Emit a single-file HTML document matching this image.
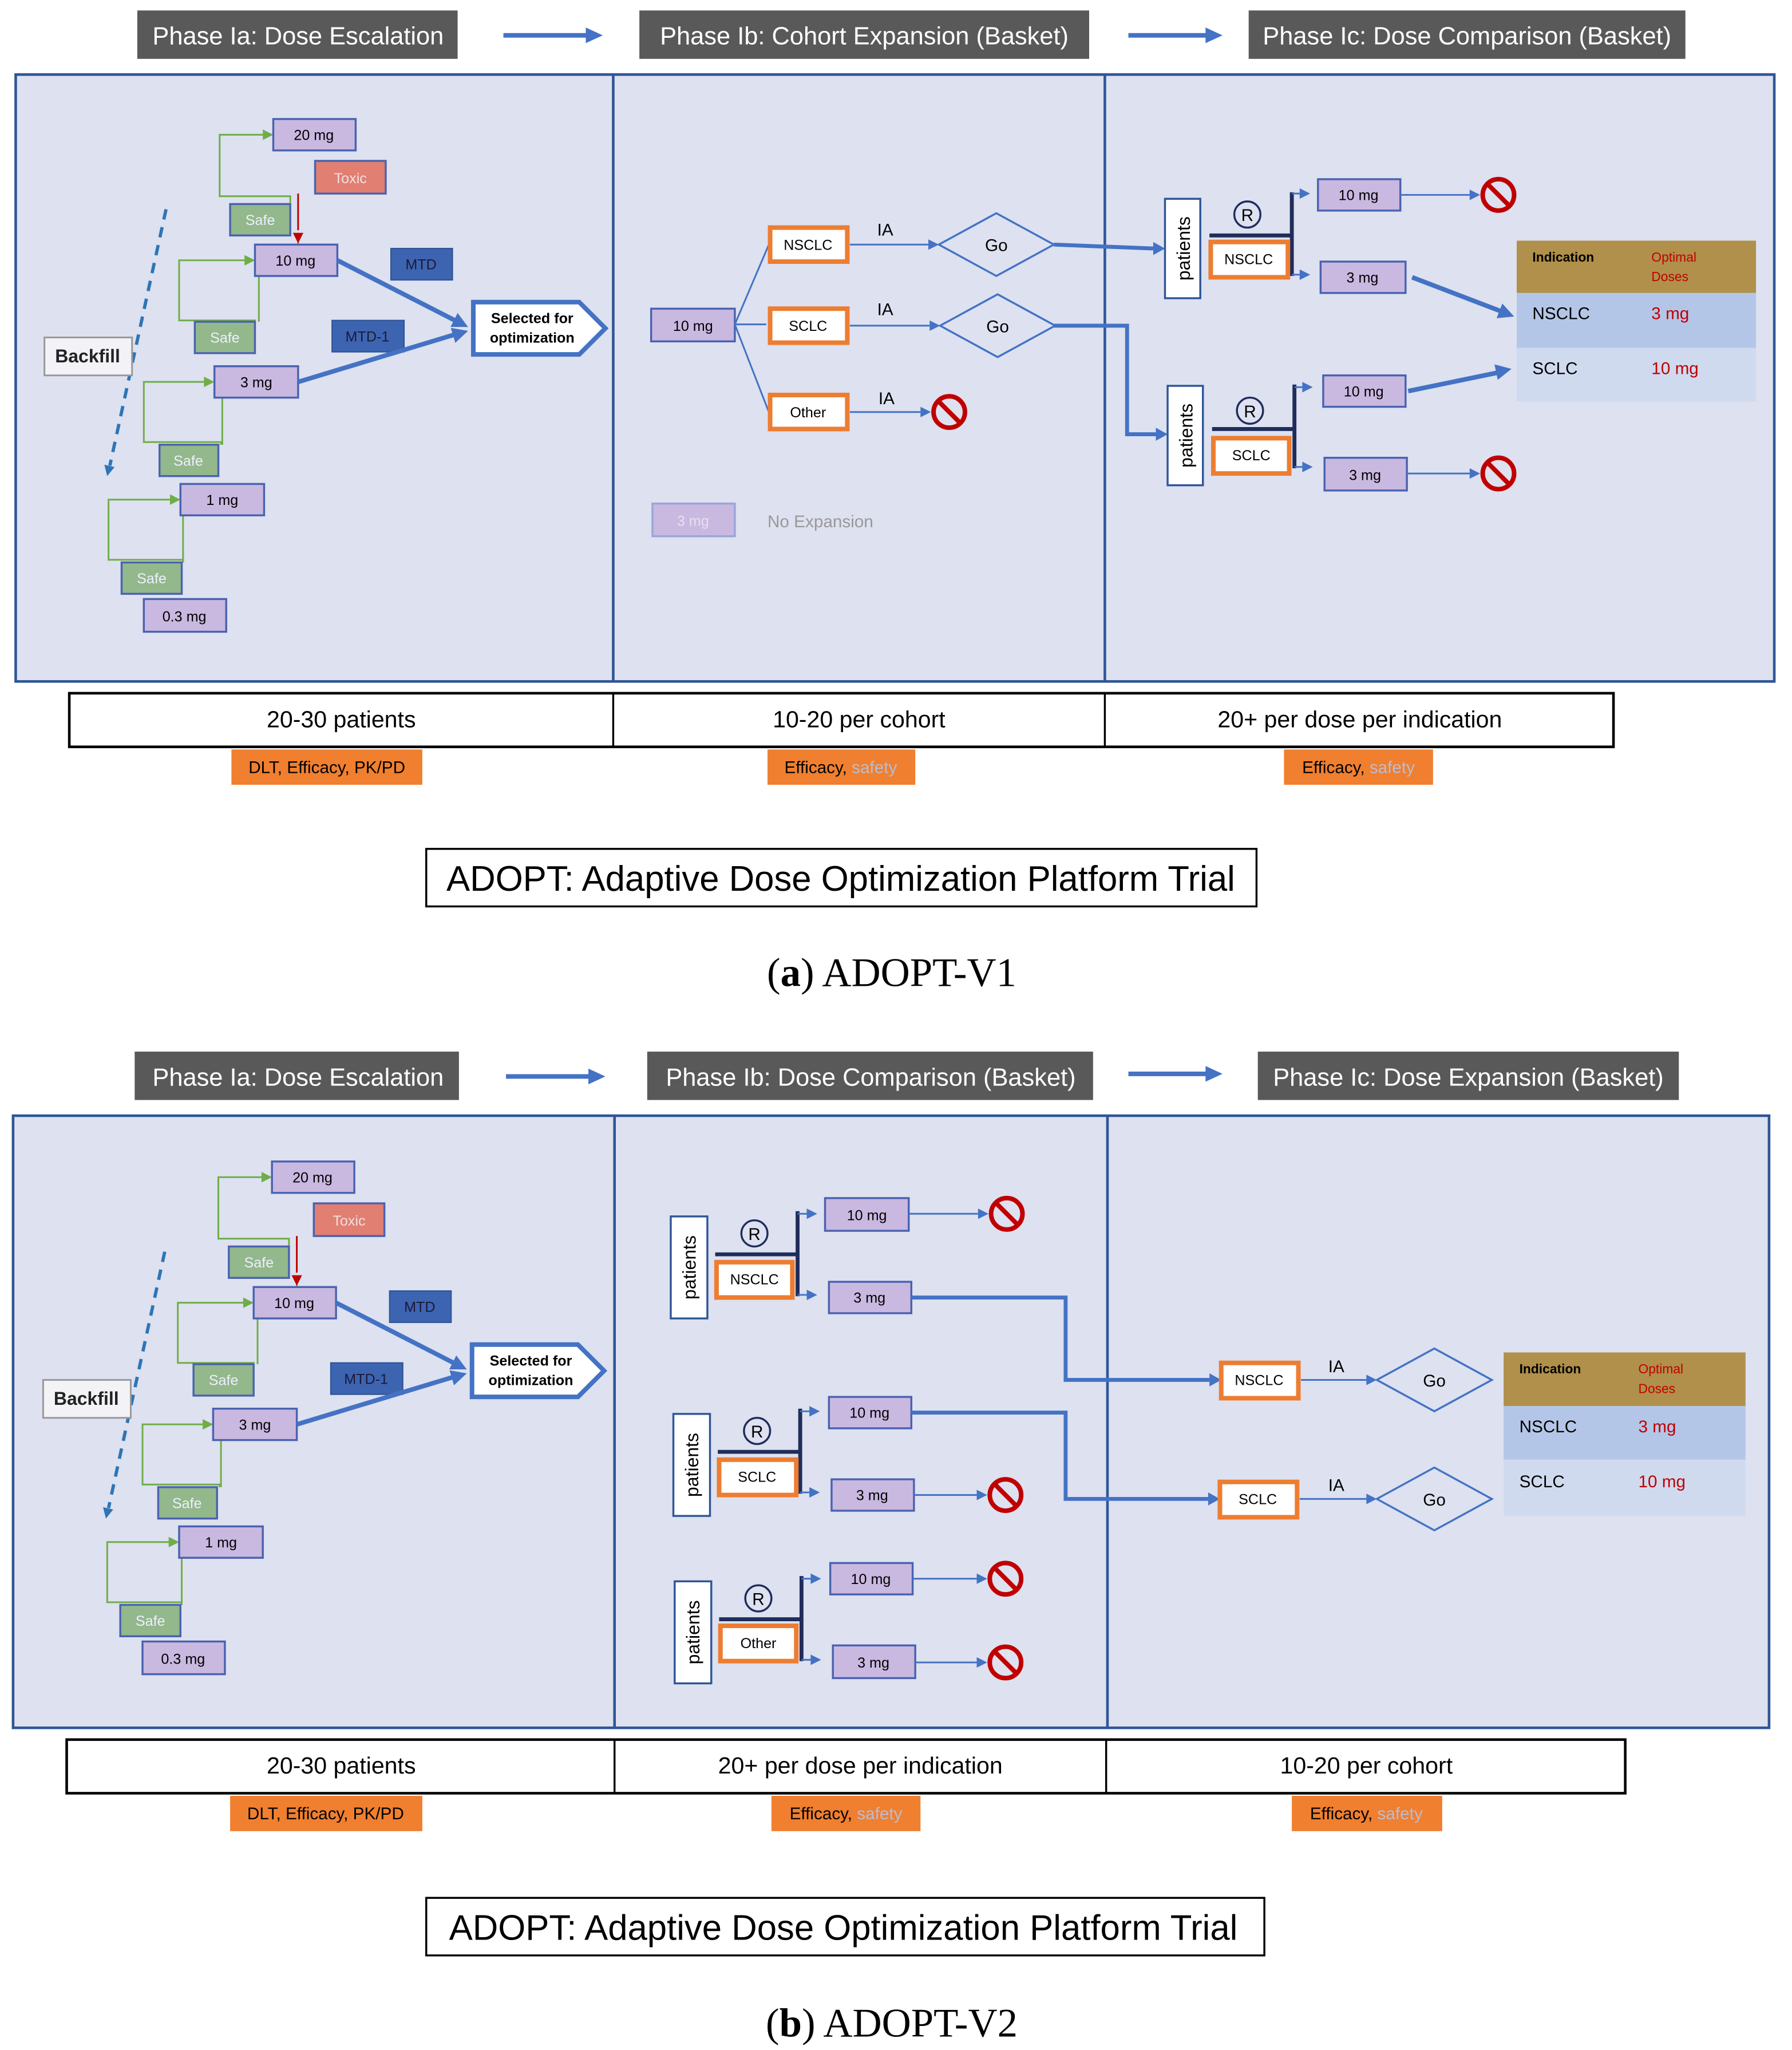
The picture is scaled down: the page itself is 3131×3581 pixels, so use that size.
<!DOCTYPE html>
<html><head><meta charset="utf-8"><style>
html,body{margin:0;padding:0;background:#fff;width:3131px;height:3581px;overflow:hidden;}
svg{display:block;position:absolute;left:0;top:0;}
text{font-family:"Liberation Sans",sans-serif;}
</style></head><body>
<svg xmlns="http://www.w3.org/2000/svg" width="3131" height="3581">
<g transform="scale(2.2845,2.2848)">

<!-- ===== PART A header ===== -->
<g font-size="19">
<rect x="105" y="8" width="245" height="37" fill="#595959"/><text x="228" y="34" fill="#fff" text-anchor="middle">Phase Ia: Dose Escalation</text>
<rect x="489" y="8" width="344" height="37" fill="#595959"/><text x="661" y="34" fill="#fff" text-anchor="middle">Phase Ib: Cohort Expansion (Basket)</text>
<rect x="955" y="8" width="334" height="37" fill="#595959"/><text x="1122" y="34" fill="#fff" text-anchor="middle">Phase Ic: Dose Comparison (Basket)</text>
</g>
<line x1="385" y1="27" x2="450" y2="27" stroke="#4472c4" stroke-width="3.5"/><polygon points="448,21 461,27 448,33" fill="#4472c4"/>
<line x1="863" y1="27" x2="924" y2="27" stroke="#4472c4" stroke-width="3.5"/><polygon points="922,21 935,27 922,33" fill="#4472c4"/>
<rect x="12" y="57" width="1345" height="464" fill="#dde1f0" stroke="#2f5597" stroke-width="2"/>
<line x1="469" y1="57" x2="469" y2="521" stroke="#2f5597" stroke-width="2"/>
<line x1="845" y1="57" x2="845" y2="521" stroke="#2f5597" stroke-width="2"/>

<!-- Phase Ia content A -->
<g>
  <path d="M222,156 L222,150 L168,150 L168,103 L203,103" fill="none" stroke="#70ad47" stroke-width="1.3"/><polygon points="201,99 209,103 201,107" fill="#70ad47"/>
  <path d="M195,246 L195,245 L137,245 L137,199 L189,199" fill="none" stroke="#70ad47" stroke-width="1.3"/><polygon points="187,195 195,199 187,203" fill="#70ad47"/>
  <path d="M169,340 L169,338 L110,338 L110,292 L158,292" fill="none" stroke="#70ad47" stroke-width="1.3"/><polygon points="156,288 164,292 156,296" fill="#70ad47"/>
  <path d="M140,430 L140,428 L83,428 L83,382 L132,382" fill="none" stroke="#70ad47" stroke-width="1.3"/><polygon points="130,378 138,382 130,386" fill="#70ad47"/>
  <path d="M198,211 L198,246 M228,187 L228,180 M170,304 L170,340 M140,394 L140,430" stroke="#70ad47" stroke-width="1.3"/>
  <path d="M228,148 L228,176" stroke="#c00000" stroke-width="1.3"/><polygon points="224,178 228,186 232,178" fill="#c00000"/>
  <rect x="209" y="91" width="63" height="24" fill="#c9b8e0" stroke="#4a62b0" stroke-width="1.5"/><text x="240" y="107" font-size="11" text-anchor="middle">20 mg</text>
  <rect x="241" y="123" width="54" height="25" fill="#e07f72" stroke="#4a62b0" stroke-width="1.5"/><text x="268" y="140" font-size="11" text-anchor="middle" fill="#f4dede">Toxic</text>
  <rect x="176" y="156" width="46" height="24" fill="#93b88b" stroke="#4a62b0" stroke-width="1.5"/><text x="199" y="172" font-size="11" text-anchor="middle" fill="#eef">Safe</text>
  <rect x="195" y="187" width="63" height="24" fill="#c9b8e0" stroke="#4a62b0" stroke-width="1.5"/><text x="226" y="203" font-size="11" text-anchor="middle">10 mg</text>
  <rect x="149" y="246" width="46" height="24" fill="#93b88b" stroke="#4a62b0" stroke-width="1.5"/><text x="172" y="262" font-size="11" text-anchor="middle" fill="#eef">Safe</text>
  <rect x="164" y="280" width="64" height="24" fill="#c9b8e0" stroke="#4a62b0" stroke-width="1.5"/><text x="196" y="296" font-size="11" text-anchor="middle">3 mg</text>
  <rect x="122" y="340" width="45" height="24" fill="#93b88b" stroke="#4a62b0" stroke-width="1.5"/><text x="144" y="356" font-size="11" text-anchor="middle" fill="#eef">Safe</text>
  <rect x="138" y="370" width="64" height="24" fill="#c9b8e0" stroke="#4a62b0" stroke-width="1.5"/><text x="170" y="386" font-size="11" text-anchor="middle">1 mg</text>
  <rect x="93" y="430" width="46" height="24" fill="#93b88b" stroke="#4a62b0" stroke-width="1.5"/><text x="116" y="446" font-size="11" text-anchor="middle" fill="#eef">Safe</text>
  <rect x="110" y="458" width="63" height="25" fill="#c9b8e0" stroke="#4a62b0" stroke-width="1.5"/><text x="141" y="475" font-size="11" text-anchor="middle">0.3 mg</text>
  <rect x="299" y="190" width="47" height="24" fill="#3d64b0" stroke="#2f5597"/><text x="322" y="206" font-size="11" text-anchor="middle" fill="#1a1a3a">MTD</text>
  <rect x="254" y="245" width="55" height="24" fill="#3d64b0" stroke="#2f5597"/><text x="281" y="261" font-size="11" text-anchor="middle" fill="#1a1a3a">MTD-1</text>
  <line x1="258" y1="199" x2="348" y2="245" stroke="#4472c4" stroke-width="3.5"/><polygon points="358,250 344.6,249.9 350,239.3" fill="#4472c4"/>
  <line x1="228" y1="292" x2="347" y2="256" stroke="#4472c4" stroke-width="3.5"/><polygon points="358,253 348.2,262.1 344.8,250.7" fill="#4472c4"/>
  <polygon points="362,231 443,231 463,251 443,271 362,271" fill="#fff" stroke="#4472c4" stroke-width="3.5"/>
  <text x="407" y="247" font-size="11" font-weight="bold" text-anchor="middle">Selected for</text>
  <text x="407" y="262" font-size="11" font-weight="bold" text-anchor="middle">optimization</text>
  <line x1="127" y1="160" x2="84" y2="356" stroke="#2e75b6" stroke-width="2.5" stroke-dasharray="8,6"/><polygon points="82,364 87.6,357.1 79.8,355.3" fill="#2e75b6"/>
  <rect x="34" y="258" width="67" height="29" fill="#f2f2f7" stroke="#999" stroke-width="1.3"/><text x="67" y="277" font-size="14" font-weight="bold" text-anchor="middle" fill="#222">Backfill</text>
</g>

<!-- Ib (a) -->
<rect x="498" y="236" width="64" height="25" fill="#c9b8e0" stroke="#4a62b0" stroke-width="1.5"/><text x="530" y="253" font-size="11" text-anchor="middle">10 mg</text>
<path d="M562,248 L588,187 M562,248 L586,248 M562,248 L588,315" stroke="#4472c4" stroke-width="1.3" fill="none"/>
<g font-size="11" text-anchor="middle">
<rect x="589" y="174" width="59" height="26" fill="#fff" stroke="#ed7d31" stroke-width="3.5"/><text x="618" y="191">NSCLC</text>
<rect x="589" y="236" width="59" height="26" fill="#fff" stroke="#ed7d31" stroke-width="3.5"/><text x="618" y="253">SCLC</text>
<rect x="589" y="302" width="59" height="26" fill="#fff" stroke="#ed7d31" stroke-width="3.5"/><text x="618" y="319">Other</text>
</g>
<g font-size="13" text-anchor="middle"><text x="677" y="180">IA</text><text x="677" y="241">IA</text><text x="678" y="309">IA</text></g>
<line x1="650" y1="187" x2="710" y2="187" stroke="#4472c4" stroke-width="1.3"/><polygon points="710,183 718,187 710,191" fill="#4472c4"/>
<line x1="650" y1="249" x2="711" y2="249" stroke="#4472c4" stroke-width="1.3"/><polygon points="711,245 719,249 711,253" fill="#4472c4"/>
<line x1="650" y1="315" x2="704" y2="315" stroke="#4472c4" stroke-width="1.3"/><polygon points="704,311 712,315 704,319" fill="#4472c4"/>
<polygon points="718,187 762,163 806,187 762,211" fill="#dde1f0" stroke="#4472c4" stroke-width="1.5"/><text x="762" y="192" font-size="13" text-anchor="middle">Go</text>
<polygon points="719,249 763,225 807,249 763,273" fill="#dde1f0" stroke="#4472c4" stroke-width="1.5"/><text x="763" y="254" font-size="13" text-anchor="middle">Go</text>
<circle cx="726" cy="315" r="12" fill="none" stroke="#c00000" stroke-width="3.5"/><line x1="717.5" y1="306.5" x2="734.5" y2="323.5" stroke="#c00000" stroke-width="3.5"/>
<rect x="499" y="385" width="63" height="25" fill="#c9b8e0" stroke="#9aa4d8" stroke-width="1.5"/><text x="530" y="402" font-size="11" text-anchor="middle" fill="#e6e0f0">3 mg</text>
<text x="587" y="403" font-size="13" fill="#999">No Expansion</text>

<!-- Ic (a) -->
<path d="M806,187 L882,190" stroke="#4472c4" stroke-width="3" fill="none"/><polygon points="882,185 891,190 882,195" fill="#4472c4"/>
<path d="M806,249 L862,249 L862,332 L884,332" stroke="#4472c4" stroke-width="3" fill="none"/><polygon points="884,327 893,332 884,337" fill="#4472c4"/>
<rect x="891" y="152" width="27" height="76" fill="#fff" stroke="#2f5597" stroke-width="1.5"/>
<text transform="translate(910,190) rotate(-90)" font-size="14" text-anchor="middle">patients</text>
<circle cx="954" cy="164" r="10" fill="none" stroke="#1f2d5a" stroke-width="1.5"/><text x="954" y="169" font-size="13" text-anchor="middle">R</text>
<line x1="925" y1="180" x2="988" y2="180" stroke="#1f2d5a" stroke-width="3"/>
<line x1="988" y1="147" x2="988" y2="211" stroke="#1f2d5a" stroke-width="3"/>
<line x1="988" y1="148" x2="994" y2="148" stroke="#4472c4" stroke-width="1.3"/><polygon points="994,144 1002,148 994,152" fill="#4472c4"/>
<line x1="988" y1="210" x2="994" y2="210" stroke="#4472c4" stroke-width="1.3"/><polygon points="994,206 1002,210 994,214" fill="#4472c4"/>
<rect x="926" y="185" width="59" height="27" fill="#fff" stroke="#ed7d31" stroke-width="3.5"/><text x="955" y="202" font-size="11" text-anchor="middle">NSCLC</text>
<rect x="1008" y="137" width="63" height="24" fill="#c9b8e0" stroke="#4a62b0" stroke-width="1.5"/><text x="1039" y="153" font-size="11" text-anchor="middle">10 mg</text>
<rect x="1010" y="200" width="65" height="24" fill="#c9b8e0" stroke="#4a62b0" stroke-width="1.5"/><text x="1042" y="216" font-size="11" text-anchor="middle">3 mg</text>
<line x1="1071" y1="149" x2="1124" y2="149" stroke="#4472c4" stroke-width="1.3"/><polygon points="1124,145 1132,149 1124,153" fill="#4472c4"/>
<circle cx="1146" cy="149" r="12" fill="none" stroke="#c00000" stroke-width="3.5"/><line x1="1137.5" y1="140.5" x2="1154.5" y2="157.5" stroke="#c00000" stroke-width="3.5"/>
<line x1="1080" y1="212" x2="1148" y2="238" stroke="#4472c4" stroke-width="3.5"/><polygon points="1158,242 1144.6,243.3 1149,232.1" fill="#4472c4"/>

<rect x="893" y="295" width="27" height="76" fill="#fff" stroke="#2f5597" stroke-width="1.5"/>
<text transform="translate(912,333) rotate(-90)" font-size="14" text-anchor="middle">patients</text>
<circle cx="956" cy="314" r="10" fill="none" stroke="#1f2d5a" stroke-width="1.5"/><text x="956" y="319" font-size="13" text-anchor="middle">R</text>
<line x1="927" y1="328" x2="990" y2="328" stroke="#1f2d5a" stroke-width="3"/>
<line x1="990" y1="294" x2="990" y2="358" stroke="#1f2d5a" stroke-width="3"/>
<line x1="990" y1="296" x2="996" y2="296" stroke="#4472c4" stroke-width="1.3"/><polygon points="996,292 1004,296 996,300" fill="#4472c4"/>
<line x1="990" y1="357" x2="996" y2="357" stroke="#4472c4" stroke-width="1.3"/><polygon points="996,353 1004,357 996,361" fill="#4472c4"/>
<rect x="928" y="335" width="58" height="27" fill="#fff" stroke="#ed7d31" stroke-width="3.5"/><text x="957" y="352" font-size="11" text-anchor="middle">SCLC</text>
<rect x="1012" y="287" width="63" height="24" fill="#c9b8e0" stroke="#4a62b0" stroke-width="1.5"/><text x="1043" y="303" font-size="11" text-anchor="middle">10 mg</text>
<rect x="1013" y="350" width="63" height="25" fill="#c9b8e0" stroke="#4a62b0" stroke-width="1.5"/><text x="1044" y="367" font-size="11" text-anchor="middle">3 mg</text>
<line x1="1076" y1="362" x2="1124" y2="362" stroke="#4472c4" stroke-width="1.3"/><polygon points="1124,358 1132,362 1124,366" fill="#4472c4"/>
<circle cx="1146" cy="362" r="12" fill="none" stroke="#c00000" stroke-width="3.5"/><line x1="1137.5" y1="353.5" x2="1154.5" y2="370.5" stroke="#c00000" stroke-width="3.5"/>
<line x1="1077" y1="299" x2="1145" y2="285" stroke="#4472c4" stroke-width="3.5"/><polygon points="1156,282 1145.5,290.4 1143,278.6" fill="#4472c4"/>

<rect x="1160" y="184" width="183" height="40" fill="#b0904a"/>
<rect x="1160" y="224" width="183" height="42" fill="#b4c6e7"/>
<rect x="1160" y="266" width="183" height="41" fill="#d0daef"/>
<text x="1172" y="200" font-size="10" font-weight="bold">Indication</text>
<text x="1263" y="200" font-size="10" fill="#c00000">Optimal</text><text x="1263" y="215" font-size="10" fill="#c00000">Doses</text>
<text x="1172" y="244" font-size="13">NSCLC</text><text x="1263" y="244" font-size="13" fill="#c00000">3 mg</text>
<text x="1172" y="286" font-size="13">SCLC</text><text x="1263" y="286" font-size="13" fill="#c00000">10 mg</text>

<!-- table a -->
<rect x="53" y="530" width="1181" height="41" fill="#fff" stroke="#000" stroke-width="2"/>
<line x1="469" y1="530" x2="469" y2="571" stroke="#000" stroke-width="1.5"/>
<line x1="845" y1="530" x2="845" y2="571" stroke="#000" stroke-width="1.5"/>
<g font-size="18" text-anchor="middle"><text x="261" y="556">20-30 patients</text><text x="657" y="556">10-20 per cohort</text><text x="1040" y="556">20+ per dose per indication</text></g>
<g font-size="13" text-anchor="middle">
<rect x="177" y="573" width="146" height="27" fill="#f07f2f"/><text x="250" y="591">DLT, Efficacy, PK/PD</text>
<rect x="587" y="573" width="113" height="27" fill="#f07f2f"/><text x="643" y="591">Efficacy, <tspan fill="#bcbcd0">safety</tspan></text>
<rect x="982" y="573" width="114" height="27" fill="#f07f2f"/><text x="1039" y="591">Efficacy, <tspan fill="#bcbcd0">safety</tspan></text>
</g>
<rect x="326" y="649" width="635" height="44" fill="#fff" stroke="#000" stroke-width="1.5"/>
<text x="643" y="681" font-size="27" text-anchor="middle">ADOPT: Adaptive Dose Optimization Platform Trial</text>
<text x="682" y="754" font-size="31" text-anchor="middle" style="font-family:'Liberation Serif',serif">(<tspan font-weight="bold">a</tspan>) ADOPT-V1</text>

<!-- ===== PART B ===== -->
<g font-size="19">
<rect x="103" y="804" width="248" height="37" fill="#595959"/><text x="228" y="830" fill="#fff" text-anchor="middle">Phase Ia: Dose Escalation</text>
<rect x="495" y="804" width="341" height="37" fill="#595959"/><text x="666" y="830" fill="#fff" text-anchor="middle">Phase Ib: Dose Comparison (Basket)</text>
<rect x="962" y="804" width="322" height="37" fill="#595959"/><text x="1123" y="830" fill="#fff" text-anchor="middle">Phase Ic: Dose Expansion (Basket)</text>
</g>
<line x1="387" y1="823" x2="452" y2="823" stroke="#4472c4" stroke-width="3.5"/><polygon points="450,817 463,823 450,829" fill="#4472c4"/>
<line x1="863" y1="821" x2="924" y2="821" stroke="#4472c4" stroke-width="3.5"/><polygon points="922,815 935,821 922,827" fill="#4472c4"/>
<rect x="10" y="853" width="1343" height="468" fill="#dde1f0" stroke="#2f5597" stroke-width="2"/>
<line x1="470" y1="853" x2="470" y2="1321" stroke="#2f5597" stroke-width="2"/>
<line x1="847" y1="853" x2="847" y2="1321" stroke="#2f5597" stroke-width="2"/>

<!-- Phase Ia content B -->
<g transform="translate(-1,797)">
  <path d="M222,156 L222,150 L168,150 L168,103 L203,103" fill="none" stroke="#70ad47" stroke-width="1.3"/><polygon points="201,99 209,103 201,107" fill="#70ad47"/>
  <path d="M195,246 L195,245 L137,245 L137,199 L189,199" fill="none" stroke="#70ad47" stroke-width="1.3"/><polygon points="187,195 195,199 187,203" fill="#70ad47"/>
  <path d="M169,340 L169,338 L110,338 L110,292 L158,292" fill="none" stroke="#70ad47" stroke-width="1.3"/><polygon points="156,288 164,292 156,296" fill="#70ad47"/>
  <path d="M140,430 L140,428 L83,428 L83,382 L132,382" fill="none" stroke="#70ad47" stroke-width="1.3"/><polygon points="130,378 138,382 130,386" fill="#70ad47"/>
  <path d="M198,211 L198,246 M228,187 L228,180 M170,304 L170,340 M140,394 L140,430" stroke="#70ad47" stroke-width="1.3"/>
  <path d="M228,148 L228,176" stroke="#c00000" stroke-width="1.3"/><polygon points="224,178 228,186 232,178" fill="#c00000"/>
  <rect x="209" y="91" width="63" height="24" fill="#c9b8e0" stroke="#4a62b0" stroke-width="1.5"/><text x="240" y="107" font-size="11" text-anchor="middle">20 mg</text>
  <rect x="241" y="123" width="54" height="25" fill="#e07f72" stroke="#4a62b0" stroke-width="1.5"/><text x="268" y="140" font-size="11" text-anchor="middle" fill="#f4dede">Toxic</text>
  <rect x="176" y="156" width="46" height="24" fill="#93b88b" stroke="#4a62b0" stroke-width="1.5"/><text x="199" y="172" font-size="11" text-anchor="middle" fill="#eef">Safe</text>
  <rect x="195" y="187" width="63" height="24" fill="#c9b8e0" stroke="#4a62b0" stroke-width="1.5"/><text x="226" y="203" font-size="11" text-anchor="middle">10 mg</text>
  <rect x="149" y="246" width="46" height="24" fill="#93b88b" stroke="#4a62b0" stroke-width="1.5"/><text x="172" y="262" font-size="11" text-anchor="middle" fill="#eef">Safe</text>
  <rect x="164" y="280" width="64" height="24" fill="#c9b8e0" stroke="#4a62b0" stroke-width="1.5"/><text x="196" y="296" font-size="11" text-anchor="middle">3 mg</text>
  <rect x="122" y="340" width="45" height="24" fill="#93b88b" stroke="#4a62b0" stroke-width="1.5"/><text x="144" y="356" font-size="11" text-anchor="middle" fill="#eef">Safe</text>
  <rect x="138" y="370" width="64" height="24" fill="#c9b8e0" stroke="#4a62b0" stroke-width="1.5"/><text x="170" y="386" font-size="11" text-anchor="middle">1 mg</text>
  <rect x="93" y="430" width="46" height="24" fill="#93b88b" stroke="#4a62b0" stroke-width="1.5"/><text x="116" y="446" font-size="11" text-anchor="middle" fill="#eef">Safe</text>
  <rect x="110" y="458" width="63" height="25" fill="#c9b8e0" stroke="#4a62b0" stroke-width="1.5"/><text x="141" y="475" font-size="11" text-anchor="middle">0.3 mg</text>
  <rect x="299" y="190" width="47" height="24" fill="#3d64b0" stroke="#2f5597"/><text x="322" y="206" font-size="11" text-anchor="middle" fill="#1a1a3a">MTD</text>
  <rect x="254" y="245" width="55" height="24" fill="#3d64b0" stroke="#2f5597"/><text x="281" y="261" font-size="11" text-anchor="middle" fill="#1a1a3a">MTD-1</text>
  <line x1="258" y1="199" x2="348" y2="245" stroke="#4472c4" stroke-width="3.5"/><polygon points="358,250 344.6,249.9 350,239.3" fill="#4472c4"/>
  <line x1="228" y1="292" x2="347" y2="256" stroke="#4472c4" stroke-width="3.5"/><polygon points="358,253 348.2,262.1 344.8,250.7" fill="#4472c4"/>
  <polygon points="362,231 443,231 463,251 443,271 362,271" fill="#fff" stroke="#4472c4" stroke-width="3.5"/>
  <text x="407" y="247" font-size="11" font-weight="bold" text-anchor="middle">Selected for</text>
  <text x="407" y="262" font-size="11" font-weight="bold" text-anchor="middle">optimization</text>
  <line x1="127" y1="160" x2="84" y2="356" stroke="#2e75b6" stroke-width="2.5" stroke-dasharray="8,6"/><polygon points="82,364 87.6,357.1 79.8,355.3" fill="#2e75b6"/>
  <rect x="34" y="258" width="67" height="29" fill="#f2f2f7" stroke="#999" stroke-width="1.3"/><text x="67" y="277" font-size="14" font-weight="bold" text-anchor="middle" fill="#222">Backfill</text>
</g>

<!-- Ib (b) groups -->
<g>
<rect x="513" y="930" width="28" height="78" fill="#fff" stroke="#2f5597" stroke-width="1.5"/>
<text transform="translate(532,969) rotate(-90)" font-size="14" text-anchor="middle">patients</text>
<circle cx="577" cy="943" r="10" fill="none" stroke="#1f2d5a" stroke-width="1.5"/><text x="577" y="948" font-size="13" text-anchor="middle">R</text>
<line x1="547" y1="959" x2="610" y2="959" stroke="#1f2d5a" stroke-width="3"/>
<line x1="610" y1="926" x2="610" y2="991" stroke="#1f2d5a" stroke-width="3"/>
<line x1="610" y1="928" x2="617" y2="928" stroke="#4472c4" stroke-width="1.3"/><polygon points="617,924 625,928 617,932" fill="#4472c4"/>
<line x1="610" y1="990" x2="617" y2="990" stroke="#4472c4" stroke-width="1.3"/><polygon points="617,986 625,990 617,994" fill="#4472c4"/>
</g>
<g transform="translate(2,151)">
<rect x="513" y="930" width="28" height="78" fill="#fff" stroke="#2f5597" stroke-width="1.5"/>
<text transform="translate(532,969) rotate(-90)" font-size="14" text-anchor="middle">patients</text>
<circle cx="577" cy="943" r="10" fill="none" stroke="#1f2d5a" stroke-width="1.5"/><text x="577" y="948" font-size="13" text-anchor="middle">R</text>
<line x1="547" y1="959" x2="610" y2="959" stroke="#1f2d5a" stroke-width="3"/>
<line x1="610" y1="926" x2="610" y2="991" stroke="#1f2d5a" stroke-width="3"/>
<line x1="610" y1="928" x2="617" y2="928" stroke="#4472c4" stroke-width="1.3"/><polygon points="617,924 625,928 617,932" fill="#4472c4"/>
<line x1="610" y1="990" x2="617" y2="990" stroke="#4472c4" stroke-width="1.3"/><polygon points="617,986 625,990 617,994" fill="#4472c4"/>
</g>
<g transform="translate(3,279)">
<rect x="513" y="930" width="28" height="78" fill="#fff" stroke="#2f5597" stroke-width="1.5"/>
<text transform="translate(532,969) rotate(-90)" font-size="14" text-anchor="middle">patients</text>
<circle cx="577" cy="943" r="10" fill="none" stroke="#1f2d5a" stroke-width="1.5"/><text x="577" y="948" font-size="13" text-anchor="middle">R</text>
<line x1="547" y1="959" x2="610" y2="959" stroke="#1f2d5a" stroke-width="3"/>
<line x1="610" y1="926" x2="610" y2="991" stroke="#1f2d5a" stroke-width="3"/>
<line x1="610" y1="928" x2="617" y2="928" stroke="#4472c4" stroke-width="1.3"/><polygon points="617,924 625,928 617,932" fill="#4472c4"/>
<line x1="610" y1="990" x2="617" y2="990" stroke="#4472c4" stroke-width="1.3"/><polygon points="617,986 625,990 617,994" fill="#4472c4"/>
</g>
<g font-size="11" text-anchor="middle">
<rect x="548" y="965" width="58" height="27" fill="#fff" stroke="#ed7d31" stroke-width="3.5"/><text x="577" y="982">NSCLC</text>
<rect x="550" y="1116" width="59" height="27" fill="#fff" stroke="#ed7d31" stroke-width="3.5"/><text x="579" y="1133">SCLC</text>
<rect x="551" y="1243" width="58" height="27" fill="#fff" stroke="#ed7d31" stroke-width="3.5"/><text x="580" y="1260">Other</text>
<rect x="631" y="916" width="64" height="25" fill="#c9b8e0" stroke="#4a62b0" stroke-width="1.5"/><text x="663" y="933">10 mg</text>
<rect x="634" y="980" width="63" height="24" fill="#c9b8e0" stroke="#4a62b0" stroke-width="1.5"/><text x="665" y="996">3 mg</text>
<rect x="634" y="1068" width="63" height="24" fill="#c9b8e0" stroke="#4a62b0" stroke-width="1.5"/><text x="665" y="1084">10 mg</text>
<rect x="636" y="1131" width="63" height="24" fill="#c9b8e0" stroke="#4a62b0" stroke-width="1.5"/><text x="667" y="1147">3 mg</text>
<rect x="635" y="1195" width="63" height="24" fill="#c9b8e0" stroke="#4a62b0" stroke-width="1.5"/><text x="666" y="1211">10 mg</text>
<rect x="637" y="1258" width="63" height="25" fill="#c9b8e0" stroke="#4a62b0" stroke-width="1.5"/><text x="668" y="1275">3 mg</text>
</g>
<line x1="695" y1="928" x2="748" y2="928" stroke="#4472c4" stroke-width="1.3"/><polygon points="748,924 756,928 748,932" fill="#4472c4"/>
<circle cx="770" cy="928" r="12" fill="none" stroke="#c00000" stroke-width="3.5"/><line x1="761.5" y1="919.5" x2="778.5" y2="936.5" stroke="#c00000" stroke-width="3.5"/>
<line x1="699" y1="1143" x2="747" y2="1143" stroke="#4472c4" stroke-width="1.3"/><polygon points="747,1139 755,1143 747,1147" fill="#4472c4"/>
<circle cx="769" cy="1143" r="12" fill="none" stroke="#c00000" stroke-width="3.5"/><line x1="760.5" y1="1134.5" x2="777.5" y2="1151.5" stroke="#c00000" stroke-width="3.5"/>
<line x1="698" y1="1207" x2="747" y2="1207" stroke="#4472c4" stroke-width="1.3"/><polygon points="747,1203 755,1207 747,1211" fill="#4472c4"/>
<circle cx="769" cy="1207" r="12" fill="none" stroke="#c00000" stroke-width="3.5"/><line x1="760.5" y1="1198.5" x2="777.5" y2="1215.5" stroke="#c00000" stroke-width="3.5"/>
<line x1="700" y1="1271" x2="747" y2="1271" stroke="#4472c4" stroke-width="1.3"/><polygon points="747,1267 755,1271 747,1275" fill="#4472c4"/>
<circle cx="769" cy="1271" r="12" fill="none" stroke="#c00000" stroke-width="3.5"/><line x1="760.5" y1="1262.5" x2="777.5" y2="1279.5" stroke="#c00000" stroke-width="3.5"/>
<path d="M697,992 L815,992 L815,1055 L925,1055" stroke="#4472c4" stroke-width="3" fill="none"/><polygon points="925,1050 934,1055 925,1060" fill="#4472c4"/>
<path d="M697,1080 L815,1080 L815,1146 L924,1146" stroke="#4472c4" stroke-width="3" fill="none"/><polygon points="924,1141 933,1146 924,1151" fill="#4472c4"/>

<!-- Ic (b) -->
<rect x="934" y="1042" width="59" height="27" fill="#fff" stroke="#ed7d31" stroke-width="3.5"/><text x="963" y="1059" font-size="11" text-anchor="middle">NSCLC</text>
<rect x="933" y="1133" width="59" height="27" fill="#fff" stroke="#ed7d31" stroke-width="3.5"/><text x="962" y="1150" font-size="11" text-anchor="middle">SCLC</text>
<text x="1022" y="1049" font-size="13" text-anchor="middle">IA</text><text x="1022" y="1140" font-size="13" text-anchor="middle">IA</text>
<line x1="995" y1="1055" x2="1045" y2="1055" stroke="#4472c4" stroke-width="1.3"/><polygon points="1045,1051 1053,1055 1045,1059" fill="#4472c4"/>
<line x1="994" y1="1146" x2="1045" y2="1146" stroke="#4472c4" stroke-width="1.3"/><polygon points="1045,1142 1053,1146 1045,1150" fill="#4472c4"/>
<polygon points="1053,1055 1097,1031 1141,1055 1097,1079" fill="#dde1f0" stroke="#4472c4" stroke-width="1.5"/><text x="1097" y="1060" font-size="13" text-anchor="middle">Go</text>
<polygon points="1053,1146 1097,1122 1141,1146 1097,1170" fill="#dde1f0" stroke="#4472c4" stroke-width="1.5"/><text x="1097" y="1151" font-size="13" text-anchor="middle">Go</text>
<rect x="1150" y="1034" width="185" height="41" fill="#b0904a"/>
<rect x="1150" y="1075" width="185" height="41" fill="#b4c6e7"/>
<rect x="1150" y="1116" width="185" height="43" fill="#d0daef"/>
<text x="1162" y="1050" font-size="10" font-weight="bold">Indication</text>
<text x="1253" y="1050" font-size="10" fill="#c00000">Optimal</text><text x="1253" y="1065" font-size="10" fill="#c00000">Doses</text>
<text x="1162" y="1095" font-size="13">NSCLC</text><text x="1253" y="1095" font-size="13" fill="#c00000">3 mg</text>
<text x="1162" y="1137" font-size="13">SCLC</text><text x="1253" y="1137" font-size="13" fill="#c00000">10 mg</text>

<!-- table b -->
<rect x="51" y="1330" width="1192" height="41" fill="#fff" stroke="#000" stroke-width="2"/>
<line x1="470" y1="1330" x2="470" y2="1371" stroke="#000" stroke-width="1.5"/>
<line x1="846" y1="1330" x2="846" y2="1371" stroke="#000" stroke-width="1.5"/>
<g font-size="18" text-anchor="middle"><text x="261" y="1356">20-30 patients</text><text x="658" y="1356">20+ per dose per indication</text><text x="1045" y="1356">10-20 per cohort</text></g>
<g font-size="13" text-anchor="middle">
<rect x="176" y="1373" width="147" height="27" fill="#f07f2f"/><text x="249" y="1391">DLT, Efficacy, PK/PD</text>
<rect x="590" y="1373" width="114" height="27" fill="#f07f2f"/><text x="647" y="1391">Efficacy, <tspan fill="#bcbcd0">safety</tspan></text>
<rect x="988" y="1373" width="115" height="27" fill="#f07f2f"/><text x="1045" y="1391">Efficacy, <tspan fill="#bcbcd0">safety</tspan></text>
</g>
<rect x="326" y="1451" width="641" height="44" fill="#fff" stroke="#000" stroke-width="1.5"/>
<text x="645" y="1483" font-size="27" text-anchor="middle">ADOPT: Adaptive Dose Optimization Platform Trial</text>
<text x="682" y="1557" font-size="31" text-anchor="middle" style="font-family:'Liberation Serif',serif">(<tspan font-weight="bold">b</tspan>) ADOPT-V2</text>

</g>
</svg>
</body></html>
